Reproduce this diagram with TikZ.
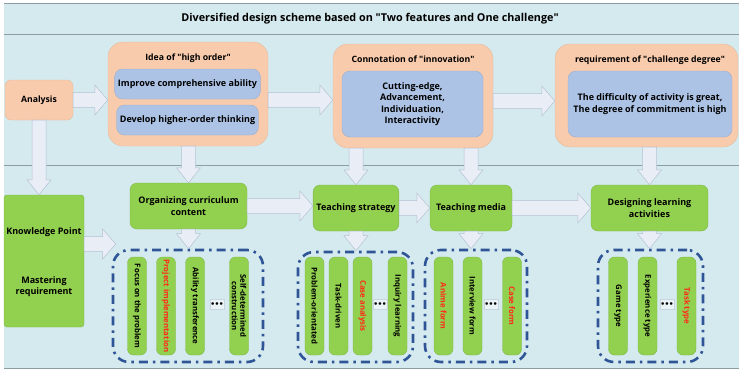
\documentclass[tikz,border=0pt]{standalone}
\usepackage{fontspec}
\setmainfont{Open Sans}
\usetikzlibrary{calc}
\definecolor{bg}{HTML}{D5EAEE}
\definecolor{frameline}{HTML}{8E9CA3}
\definecolor{orng}{HTML}{F8CBAD}
\definecolor{blu}{HTML}{ACC3E5}
\definecolor{grn}{HTML}{92D050}
\definecolor{grnd}{HTML}{7DB944}
\definecolor{arrf}{HTML}{E8EDF6}
\definecolor{arrd}{HTML}{B5C2D4}
\definecolor{dashb}{HTML}{2F5597}
\definecolor{redt}{HTML}{FF2A1A}
\newcommand\qq{\textquotedbl}
\tikzset{
  outerbox/.style={fill=orng, draw=orng!92!black, line width=0.4pt, rounded corners=15pt, minimum width=#1},
  innerbox/.style={fill=blu, draw=blu!90!black, line width=0.4pt, rounded corners=8pt, align=center, font=\fontsize{9}{11.5}\selectfont\bfseries},
  ttl/.style={font=\fontsize{8.7}{10}\selectfont\bfseries},
  greenbox/.style={fill=grn, draw=grnd, line width=0.4pt, rounded corners=7pt, align=center, font=\fontsize{9}{11.5}\selectfont\bfseries},
  grp/.style={draw=dashb, line width=2.6pt, rounded corners=16pt, dash pattern=on 9pt off 5pt on 2.5pt off 5pt},
  pill/.style={fill=grn, draw=grnd, line width=0.4pt, rounded corners=6pt, minimum width=19pt, minimum height=98pt, inner sep=0pt},
  pilltxt/.style={rotate=-90, align=center, font=\fontsize{7.8}{8.4}\selectfont\bfseries},
  dotbox/.style={fill=bg!50!white, draw=arrd!70!white, line width=0.3pt, minimum width=14pt, minimum height=10pt, inner sep=0pt, font=\fontsize{6}{6}\selectfont\bfseries},
  blockarr/.style={fill=arrf, draw=arrd, line width=0.5pt},
  hline/.style={draw=frameline, line width=0.8pt}
}
\newcommand\harr[2]{\draw[blockarr] let \p1=#1, \p2=#2 in (\x1,\y1+7.5pt) -- (\x2-13pt,\y1+7.5pt) -- (\x2-13pt,\y1+15pt) -- (\x2,\y1) -- (\x2-13pt,\y1-15pt) -- (\x2-13pt,\y1-7.5pt) -- (\x1,\y1-7.5pt) -- cycle;}
\newcommand\varr[2]{\draw[blockarr] let \p1=#1, \p2=#2 in (\x1-7pt,\y1) -- (\x1-7pt,\y2+15pt) -- (\x1-12pt,\y2+15pt) -- (\x1,\y2) -- (\x1+12pt,\y2+15pt) -- (\x1+7pt,\y2+15pt) -- (\x1+7pt,\y1) -- cycle;}
\begin{document}
\begin{tikzpicture}[x=1pt,y=-1pt]
\useasboundingbox (0,0) rectangle (739,370);
\fill[bg] (4,3) rectangle (739,368);
\draw[hline] (4,3) -- (739,3);
\draw[hline] (4,34) -- (739,34);
\draw[hline] (4,165) -- (739,165);
\draw[hline] (4,368) -- (739,368);

\node[font=\fontsize{10.8}{12}\selectfont\bfseries] (title) at (370,19) {Diversified design scheme based on \qq Two features and One challenge\qq};

% top row
\node[outerbox=68pt, minimum height=40pt, rounded corners=6pt, font=\fontsize{8.7}{10}\selectfont\bfseries] (an) at (39,100) {Analysis};
\node[outerbox=160pt, minimum height=104pt] (idea) at (188,94) {};
\node[ttl] (ideat) at (188,58) {Idea of \qq high order\qq};
\node[innerbox, minimum width=141pt, minimum height=30pt] (imp) at (187.5,84) {Improve comprehensive ability};
\node[innerbox, minimum width=141pt, minimum height=30pt] (dev) at (187.5,120) {Develop higher-order thinking};

\node[outerbox=160pt, minimum height=104pt] (conn) at (413,96) {};
\node[ttl] (connt) at (413,59) {Connotation of \qq innovation\qq};
\node[innerbox, minimum width=141pt, minimum height=66pt] (connin) at (412.5,104) {Cutting-edge,\\Advancement,\\Individuation,\\Interactivity};

\node[outerbox=183pt, minimum height=103pt] (req) at (646.5,95.5) {};
\node[ttl] (reqt) at (650,60) {requirement of \qq challenge degree\qq};
\node[innerbox, minimum width=164pt, minimum height=66pt] (reqin) at (650,104) {The difficulty of activity is great,\\The degree of commitment is high};

% lower row
\node[fill=grn, draw=grnd, line width=0.4pt, rounded corners=3pt, minimum width=80pt, minimum height=132pt] (kp) at (44,261) {};
\node[font=\fontsize{9}{11}\selectfont\bfseries] (kpt) at (44,232) {Knowledge Point};
\node[font=\fontsize{9}{11}\selectfont\bfseries, align=center] (mrt) at (44,287) {Mastering\\requirement};

\node[greenbox, minimum width=117pt, minimum height=46pt] (org) at (188.5,206) {Organizing curriculum\\content};
\node[greenbox, minimum width=82pt, minimum height=46pt] (ts) at (356,208) {Teaching strategy};
\node[greenbox, minimum width=82pt, minimum height=46pt] (tm) at (471,208) {Teaching media};
\node[greenbox, minimum width=117pt, minimum height=46pt] (des) at (649.5,208) {Designing learning\\activities};

% groups
\node[grp, minimum width=150pt, minimum height=112pt] (g1) at (188,306) {};
\node[grp, minimum width=115pt, minimum height=110pt] (g2) at (355.5,307) {};
\node[grp, minimum width=102pt, minimum height=112pt] (g3) at (476,306) {};
\node[grp, minimum width=105pt, minimum height=112pt] (g4) at (650.5,306) {};

% pills group 1
\node[pill] (p11) at (137,306) {}; \node[pilltxt] (t11) at (p11) {Focus on the problem};
\node[pill] (p12) at (166,306) {}; \node[pilltxt, text=redt] (t12) at (p12) {Project implementation};
\node[pill] (p13) at (195,306) {}; \node[pilltxt] (t13) at (p13) {Ability transference};
\node[dotbox] (d1) at (217,304) {$\bullet\!\bullet\!\bullet$};
\node[pill] (p14) at (239,306) {}; \node[pilltxt] (t14) at (p14) {Self-determined\\construction};
% group 2
\node[pill] (p21) at (314.5,306) {}; \node[pilltxt] (t21) at (p21) {Problem-orientated};
\node[pill] (p22) at (338.5,306) {}; \node[pilltxt] (t22) at (p22) {Task-driven};
\node[pill] (p23) at (362.5,306) {}; \node[pilltxt, text=redt] (t23) at (p23) {Case analysis};
\node[dotbox] (d2) at (380,304) {$\bullet\!\bullet\!\bullet$};
\node[pill] (p24) at (397.5,306) {}; \node[pilltxt] (t24) at (p24) {Inquiry learning};
% group 3
\node[pill] (p31) at (443.5,306) {}; \node[pilltxt, text=redt] (t31) at (p31) {Anime form};
\node[pill] (p32) at (472.5,306) {}; \node[pilltxt] (t32) at (p32) {Interview form};
\node[dotbox] (d3) at (491,304) {$\bullet\!\bullet\!\bullet$};
\node[pill] (p33) at (512,306) {}; \node[pilltxt, text=redt] (t33) at (p33) {Case form};
% group 4
\node[pill] (p41) at (618,306) {}; \node[pilltxt] (t41) at (p41) {Game type};
\node[pill] (p42) at (647.5,306) {}; \node[pilltxt] (t42) at (p42) {Experience type};
\node[dotbox] (d4) at (667,304) {$\bullet\!\bullet\!\bullet$};
\node[pill] (p43) at (686.5,306) {}; \node[pilltxt, text=redt] (t43) at (p43) {Task type};

% arrows
\harr{(an.east)}{(idea.west)}
\harr{(idea.east |- an.east)}{(conn.west)}
\harr{($(conn.east |- an.east)+(0,1)$)}{(req.west)}
\varr{(an.south)}{(kp.north -| an.south)}
\varr{(idea.south -| org.north)}{(org.north)}
\varr{(conn.south -| ts.north)}{(ts.north)}
\varr{(conn.south -| tm.north)}{(tm.north)}
\varr{(req.south -| des.north)}{(des.north)}
\harr{($(kp.east)+(0,-17)$)}{($(g1.west)+(4,0)$)}
\harr{(org.east)}{(ts.west)}
\harr{(ts.east)}{(tm.west)}
\harr{(tm.east)}{(des.west)}
\varr{(org.south)}{(g1.north)}
\varr{(ts.south)}{(g2.north)}
\varr{(tm.south)}{(g3.north)}
\varr{(des.south)}{(g4.north)}
\end{tikzpicture}
\end{document}
